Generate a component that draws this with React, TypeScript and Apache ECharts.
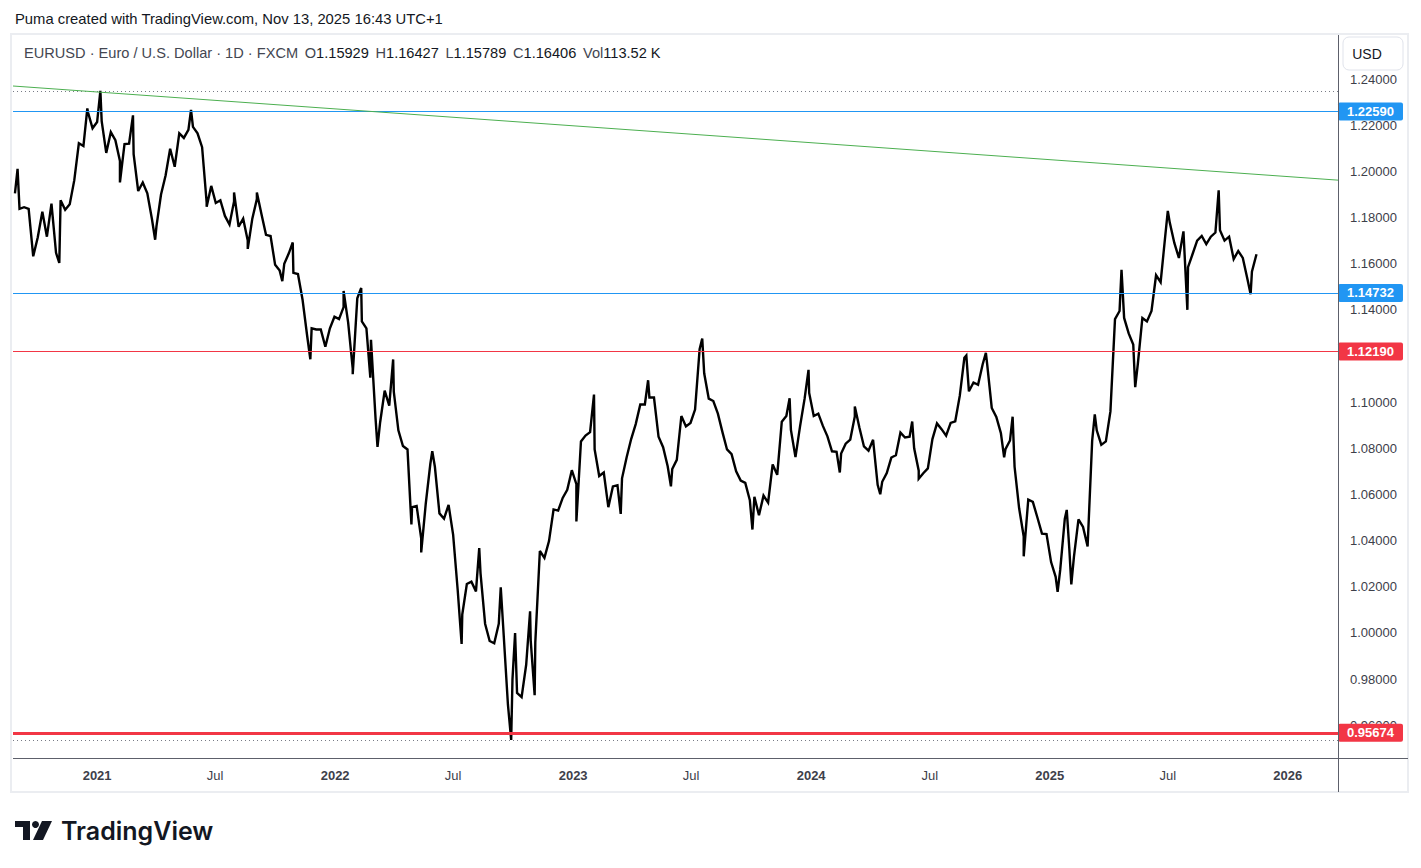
import React, { useEffect, useRef } from 'react';
import * as echarts from 'echarts';

// ---- Data (weekly closes, each block starts on a Friday) ----
const closes2020Start = '2020-08-28';
const closes2020 = [
  1.1905, 1.1838, 1.1845, 1.1838, 1.1632, 1.1715, 1.1825, 1.1717, 1.186, 1.1647,
  1.1875, 1.1834, 1.1858, 1.1962, 1.2122, 1.211, 1.2256, 1.2187,
];
const closes2021Start = '2021-01-01';
const closes2021 = [
  1.2214, 1.2218, 1.208, 1.217, 1.2135, 1.2045, 1.2118, 1.212, 1.2075, 1.1915,
  1.1952, 1.1905, 1.1795, 1.1762, 1.19, 1.1982, 1.2098, 1.202, 1.2165, 1.2145,
  1.218, 1.2193, 1.2165, 1.2105, 1.1865, 1.1937, 1.1863, 1.1875, 1.1807, 1.177,
  1.187, 1.176, 1.1795, 1.17, 1.1795, 1.188, 1.1815, 1.1725, 1.172, 1.1595,
  1.157, 1.16, 1.1645, 1.156, 1.1555, 1.1445, 1.129, 1.132, 1.1315, 1.1315,
  1.124, 1.132, 1.137,
];
const closes2022Start = '2022-01-07';
const closes2022 = [
  1.136, 1.1412, 1.1345, 1.1145, 1.145, 1.135, 1.132, 1.127, 1.093, 1.0912,
  1.105, 1.0985, 1.1045, 1.0878, 1.081, 1.0795, 1.0545, 1.055, 1.041, 1.056,
  1.0732, 1.072, 1.0518, 1.0495, 1.0555, 1.0425, 1.0185, 1.008, 1.0212, 1.0222,
  1.018, 1.0258, 1.004, 0.9965, 0.9955, 1.004, 1.0015, 0.969, 0.98, 0.974,
  0.9722, 0.9862, 0.9965, 0.996, 1.0355, 1.0325, 1.0398, 1.0535, 1.053, 1.0585,
  1.062, 1.0705,
];
const closes2023Start = '2023-01-06';
const closes2023 = [
  1.0645, 1.083, 1.0855, 1.087, 1.0795, 1.068, 1.0695, 1.0545, 1.0635, 1.064,
  1.067, 1.076, 1.084, 1.0905, 1.099, 1.099, 1.102, 1.102, 1.085, 1.0805,
  1.0722, 1.071, 1.075, 1.094, 1.0895, 1.091, 1.0968, 1.123, 1.1125, 1.1015,
  1.1005, 1.095, 1.087, 1.0795, 1.0775, 1.07, 1.066, 1.065, 1.0575, 1.059,
  1.051, 1.0595, 1.0565, 1.073, 1.0685, 1.0915, 1.094, 1.088, 1.0762, 1.0895,
  1.1015, 1.104,
];
const closes2024Start = '2024-01-05';
const closes2024 = [
  1.094, 1.095, 1.0897, 1.0852, 1.0787, 1.0785, 1.0777, 1.082, 1.0838, 1.0938,
  1.089, 1.0808, 1.079, 1.0837, 1.0642, 1.0655, 1.0693, 1.076, 1.077, 1.0868,
  1.0847, 1.085, 1.08, 1.0703, 1.0692, 1.0713, 1.084, 1.0908, 1.0883, 1.0855,
  1.091, 1.0917, 1.1028, 1.1192, 1.1047, 1.1085, 1.1075, 1.1163, 1.1164, 1.0975,
  1.0936, 1.0866, 1.0796, 1.0834, 1.072, 1.054, 1.0418, 1.0578, 1.0568, 1.05,
  1.043, 1.0428,
];
const closes2025Start = '2025-01-03';
const closes2025 = [
  1.0307, 1.0243, 1.0273, 1.0494, 1.0362, 1.0328, 1.0492, 1.0459, 1.0375, 1.0833,
  1.0878, 1.0815, 1.083, 1.096, 1.136, 1.1395, 1.1365, 1.1298, 1.125, 1.1165,
  1.1365, 1.135, 1.1395, 1.155, 1.152, 1.1718, 1.1778, 1.169, 1.1625, 1.174,
  1.1585, 1.1642, 1.17, 1.172, 1.1685, 1.1717, 1.1735, 1.1745, 1.17, 1.1717,
  1.162, 1.1655, 1.1625, 1.1535, 1.1565, 1.1641,
];
// intra-week swing highs / lows
const swingPoints: [string, number][] = [
  ['2020-09-01', 1.2011], ['2020-11-04', 1.1603], ['2020-12-17', 1.2273],
  ['2021-01-06', 1.2349], ['2021-02-05', 1.1952], ['2021-02-25', 1.2243],
  ['2021-03-31', 1.1704], ['2021-05-25', 1.2266], ['2021-06-18', 1.1847],
  ['2021-07-30', 1.1909], ['2021-08-20', 1.1664], ['2021-09-03', 1.1909],
  ['2021-10-12', 1.1524], ['2021-10-28', 1.1692], ['2021-11-24', 1.1186],
  ['2022-01-14', 1.1482], ['2022-01-28', 1.1121], ['2022-02-10', 1.1495],
  ['2022-02-24', 1.1106], ['2022-03-07', 1.0806], ['2022-03-31', 1.1185],
  ['2022-04-28', 1.047], ['2022-05-13', 1.0349], ['2022-05-30', 1.0787],
  ['2022-07-14', 0.9952], ['2022-08-10', 1.0368], ['2022-09-12', 1.0198],
  ['2022-09-28', 0.9536], ['2022-10-04', 0.9999], ['2022-10-27', 1.0094],
  ['2022-11-03', 0.973], ['2023-01-06', 1.0483], ['2023-02-02', 1.1033],
  ['2023-03-15', 1.0516], ['2023-04-26', 1.1095], ['2023-05-31', 1.0635],
  ['2023-07-18', 1.1276], ['2023-10-03', 1.0448], ['2023-11-29', 1.1017],
  ['2023-12-28', 1.114], ['2024-02-14', 1.0695], ['2024-03-08', 1.0981],
  ['2024-04-16', 1.0601], ['2024-06-04', 1.0916], ['2024-06-14', 1.0668],
  ['2024-08-26', 1.1202], ['2024-09-25', 1.1214], ['2024-10-23', 1.0761],
  ['2024-11-05', 1.0937], ['2024-11-22', 1.0332], ['2025-01-13', 1.0178],
  ['2025-01-27', 1.0533], ['2025-02-03', 1.021], ['2025-03-11', 1.0947],
  ['2025-04-21', 1.1573], ['2025-05-12', 1.1065], ['2025-07-01', 1.1829],
  ['2025-07-31', 1.14], ['2025-09-17', 1.1918], ['2025-11-05', 1.1468],
];

const weeklyBlocks: [string, number[]][] = [
  [closes2020Start, closes2020], [closes2021Start, closes2021], [closes2022Start, closes2022],
  [closes2023Start, closes2023], [closes2024Start, closes2024], [closes2025Start, closes2025],
];

const levelValues = [1.2259, 1.14732, 1.1219, 0.95674];
const levelColors = ['#2196F3', '#2196F3', '#F23645', '#F23645'];
const rangeHigh = 1.2349;
const rangeLow = 0.9536;
const trendStart: [string, number] = ['2020-08-25', 1.237];
const trendEnd: [string, number] = ['2026-03-19', 1.1962];

const xTickDates = [
  '2021-01-01', '2021-07-01', '2022-01-01', '2022-07-01', '2023-01-01', '2023-07-01',
  '2024-01-01', '2024-07-01', '2025-01-01', '2025-07-01', '2026-01-01',
];
// 1.12 is hidden behind the 1.12190 price tag in the reference
const yTickValues = [0.96, 0.98, 1.0, 1.02, 1.04, 1.06, 1.08, 1.1, 1.14, 1.16, 1.18, 1.2, 1.22, 1.24];
const monthNames = ['Jan', 'Feb', 'Mar', 'Apr', 'May', 'Jun', 'Jul', 'Aug', 'Sep', 'Oct', 'Nov', 'Dec'];

const xMin = '2020-08-25';
const xMax = '2026-03-19';
const yMin = 0.9458;
const yMax = 1.2591;

const DAY = 86400000;
const ts = (s: string) => {
  const [y, m, d] = s.split('-').map(Number);
  return Date.UTC(y, m - 1, d);
};

const FONT = "'Liberation Sans', Arial, sans-serif";
const TXT = '#131722';

export default function App() {
  const ref = useRef<HTMLDivElement>(null);

  useEffect(() => {
    if (!ref.current) return;
    const chart = echarts.init(ref.current, null, { renderer: 'svg' });

    const pts: [number, number][] = [];
    weeklyBlocks.forEach(([start, vals]) => {
      const t0 = ts(start);
      vals.forEach((v, i) => pts.push([t0 + i * 7 * DAY, v]));
    });
    swingPoints.forEach(([d, v]) => pts.push([ts(d), v]));
    pts.sort((a, b) => a[0] - b[0]);

    const tagLabel = (color: string, v: number) => ({
      show: true,
      position: 'end',
      distance: 0,
      formatter: () => v.toFixed(5),
      color: '#fff',
      backgroundColor: color,
      padding: [3, 9, 2, 9],
      borderRadius: 2,
      fontSize: 13,
      fontWeight: 'bold',
      fontFamily: FONT,
    });

    const markData: any[] = levelValues.map((v, i) => ({
      yAxis: v,
      lineStyle: { color: levelColors[i], width: i === 3 ? 3 : 1, type: 'solid' },
      label: tagLabel(levelColors[i], v),
    }));
    markData.push(
      { yAxis: rangeHigh, lineStyle: { color: '#787B86', width: 1, type: [1, 3] }, label: { show: false } },
      { yAxis: rangeLow, lineStyle: { color: '#787B86', width: 1, type: [1, 3] }, label: { show: false } },
      [
        { coord: [ts(trendStart[0]), trendStart[1]], lineStyle: { color: '#4CAF50', width: 1, type: 'solid' }, label: { show: false } },
        { coord: [ts(trendEnd[0]), trendEnd[1]] },
      ],
    );

    chart.setOption({
      animation: false,
      backgroundColor: '#ffffff',
      grid: { left: 13, top: 35, right: 83, bottom: 110, containLabel: false },
      xAxis: {
        type: 'value',
        min: ts(xMin),
        max: ts(xMax),
        axisLine: { show: false },
        axisTick: { show: false },
        splitLine: { show: false },
        axisLabel: {
          customValues: xTickDates.map(ts),
          margin: 11,
          fontSize: 13,
          fontFamily: FONT,
          color: TXT,
          formatter: (v: number) => {
            const d = new Date(v);
            return d.getUTCMonth() === 0 ? '{b|' + d.getUTCFullYear() + '}' : '{n|' + monthNames[d.getUTCMonth()] + '}';
          },
          rich: {
            b: { fontWeight: 'bold', fontSize: 13, fontFamily: FONT, color: '#3D404A' },
            n: { fontSize: 13, fontFamily: FONT, color: '#3D404A' },
          },
        },
      },
      yAxis: {
        type: 'value',
        position: 'right',
        min: yMin,
        max: yMax,
        axisLine: { show: false },
        axisTick: { show: false },
        splitLine: { show: false },
        axisLabel: {
          customValues: yTickValues,
          formatter: (v: number) => v.toFixed(5),
          margin: 12,
          fontSize: 13,
          fontFamily: FONT,
          color: '#3D404A',
        },
      },
      series: [
        {
          name: 'EURUSD',
          type: 'line',
          data: pts,
          showSymbol: false,
          symbol: 'none',
          lineStyle: { color: '#000000', width: 2.4, join: 'miter', miterLimit: 3 },
          z: 3,
          markLine: {
            symbol: 'none',
            silent: true,
            animation: false,
            precision: 5,
            data: markData,
          },
        },
      ],
      graphic: [
        {
          type: 'rect', silent: true, z: 0,
          shape: { x: 11, y: 34, width: 1397, height: 758 },
          style: { fill: 'none', stroke: '#EBEDF1', lineWidth: 2 },
        },
        {
          type: 'line', silent: true, z: 50,
          shape: { x1: 13, y1: 758.5, x2: 1408, y2: 758.5 },
          style: { stroke: '#5D606B', lineWidth: 1 },
        },
        {
          type: 'line', silent: true, z: 50,
          shape: { x1: 1338.5, y1: 35, x2: 1338.5, y2: 792 },
          style: { stroke: '#5D606B', lineWidth: 1 },
        },
        {
          type: 'rect', silent: true, z: 100,
          shape: { x: 1343, y: 37, width: 60, height: 33, r: 6 },
          style: { fill: '#ffffff', stroke: '#E0E3EB', lineWidth: 1 },
        },
        {
          type: 'text', silent: true, z: 101,
          style: { x: 1367, y: 54, text: 'USD', fill: TXT, fontSize: 14, fontFamily: FONT, align: 'center', verticalAlign: 'middle' },
        },
        {
          type: 'text', silent: true, z: 100,
          style: {
            x: 15, y: 19, text: 'Puma created with TradingView.com, Nov 13, 2025 16:43 UTC+1',
            fill: TXT, fontSize: 14.8, fontFamily: FONT, verticalAlign: 'middle',
          },
        },
        {
          type: 'text', silent: true, z: 100,
          style: {
            x: 24, y: 53,
            text: '{t|EURUSD · Euro / U.S. Dollar · 1D · FXCM}  {k|O}{v|1.15929}  {k|H}{v|1.16427}  {k|L}{v|1.15789}  {k|C}{v|1.16406}  {k|Vol}{v|113.52 K}',
            verticalAlign: 'middle',
            rich: {
              t: { fill: '#434651', fontSize: 14.6, fontFamily: FONT },
              k: { fill: '#434651', fontSize: 14.6, fontFamily: FONT },
              v: { fill: TXT, fontSize: 14.6, fontFamily: FONT },
            },
          },
        },
        // TradingView logo
        { type: 'rect', silent: true, shape: { x: 15, y: 821, width: 15, height: 6 }, style: { fill: TXT } },
        { type: 'rect', silent: true, shape: { x: 23, y: 821, width: 7, height: 19 }, style: { fill: TXT } },
        { type: 'circle', silent: true, shape: { cx: 35.5, cy: 824.5, r: 3.5 }, style: { fill: TXT } },
        { type: 'polygon', silent: true, shape: { points: [[42, 821], [52, 821], [43, 840], [33, 840]] }, style: { fill: TXT } },
        {
          type: 'text', silent: true,
          style: { x: 61, y: 831, text: 'TradingView', fill: TXT, fontSize: 25, fontWeight: 600, fontFamily: "Inter, 'Noto Sans', sans-serif", verticalAlign: 'middle' },
        },
      ],
    });

    return () => chart.dispose();
  }, []);

  return (
    <div
      ref={ref}
      style={{ position: 'fixed', left: 0, top: 0, width: 1421, height: 868, background: '#fff' }}
    />
  );
}
